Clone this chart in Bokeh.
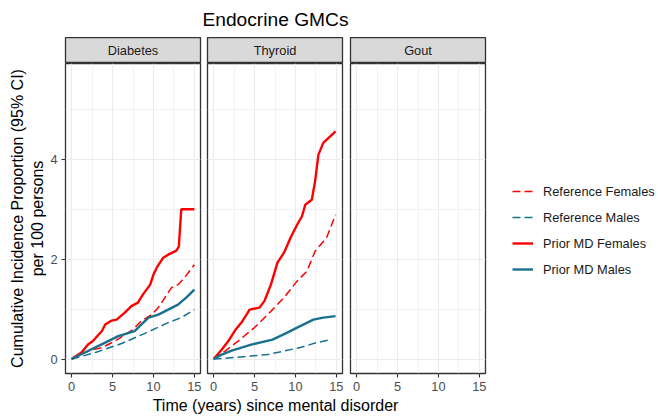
from bokeh.plotting import figure
from bokeh.layouts import row, column
from bokeh.models import FixedTicker, Range1d, Legend, LegendItem
from bokeh.core.properties import value
from bokeh.embed import file_html
from bokeh.resources import INLINE

# ---------------- data ----------------
title_text = "Endocrine GMCs"
x_title = "Time (years) since mental disorder"
y_title = "Cumulative Incidence Proportion (95% CI)\nper 100 persons"
panels = ["Diabetes", "Thyroid", "Gout"]
series_names = ["Reference Females", "Reference Males", "Prior MD Females", "Prior MD Males"]
x_ticks = [0, 5, 10, 15]
y_ticks = [0, 2, 4]

# Diabetes
diab_prior_f_t = [0, 1.2, 2.0, 2.6, 3.7, 4.1, 4.9, 5.5, 6.5, 7.3, 8.1, 8.7, 9.6, 10.0, 10.4, 11.2, 11.8, 12.8, 13.1, 13.4, 15.0]
diab_prior_f_v = [0, 0.13, 0.29, 0.36, 0.56, 0.69, 0.77, 0.79, 0.93, 1.06, 1.13, 1.29, 1.49, 1.69, 1.83, 2.03, 2.09, 2.17, 2.25, 3.0, 3.0]
diab_ref_f_t = [0, 2.0, 3.7, 5.3, 7.5, 8.5, 9.8, 10.6, 11.4, 12.2, 13.0, 13.8, 15.0]
diab_ref_f_v = [0, 0.16, 0.23, 0.36, 0.59, 0.76, 0.89, 1.03, 1.23, 1.43, 1.49, 1.63, 1.89]
diab_prior_m_t = [0, 2.0, 4.1, 5.7, 7.7, 8.5, 9.4, 10.6, 11.8, 13.0, 14.0, 15.0]
diab_prior_m_v = [0, 0.16, 0.33, 0.46, 0.56, 0.69, 0.83, 0.89, 0.99, 1.09, 1.23, 1.39]
diab_ref_m_t = [0, 2.9, 6.1, 8.9, 11.8, 13.4, 15.0]
diab_ref_m_v = [0, 0.13, 0.31, 0.51, 0.73, 0.83, 0.99]

# Thyroid
thy_prior_f_t = [0, 1.0, 1.8, 2.6, 3.4, 4.4, 5.6, 6.2, 7.0, 7.8, 8.6, 9.4, 10.2, 10.8, 11.2, 12.0, 12.4, 12.8, 13.4, 14.9]
thy_prior_f_v = [0, 0.19, 0.36, 0.57, 0.73, 0.99, 1.03, 1.16, 1.49, 1.93, 2.13, 2.43, 2.69, 2.86, 3.09, 3.19, 3.56, 4.09, 4.33, 4.56]
thy_ref_f_t = [0, 1.4, 3.0, 5.0, 7.2, 8.6, 10.2, 11.4, 12.4, 13.8, 14.9]
thy_ref_f_v = [0, 0.16, 0.36, 0.63, 0.99, 1.23, 1.56, 1.76, 2.16, 2.43, 2.89]
thy_prior_m_t = [0, 1.0, 2.2, 4.6, 7.2, 9.0, 10.2, 12.2, 13.4, 14.9]
thy_prior_m_v = [0, 0.09, 0.17, 0.29, 0.39, 0.53, 0.63, 0.79, 0.83, 0.86]
thy_ref_m_t = [0, 2.6, 6.6, 10.6, 12.6, 14.4]
thy_ref_m_v = [0, 0.03, 0.09, 0.23, 0.33, 0.39]

# Gout: no estimates shown (missing values)
gout_t = [float("nan")]
gout_v = [float("nan")]

data = {
    "Diabetes": [(diab_ref_f_t, diab_ref_f_v), (diab_ref_m_t, diab_ref_m_v),
                 (diab_prior_f_t, diab_prior_f_v), (diab_prior_m_t, diab_prior_m_v)],
    "Thyroid": [(thy_ref_f_t, thy_ref_f_v), (thy_ref_m_t, thy_ref_m_v),
                (thy_prior_f_t, thy_prior_f_v), (thy_prior_m_t, thy_prior_m_v)],
    "Gout": [(gout_t, gout_v)] * 4,
}

# ---------------- style ----------------
FONT = "Liberation Sans"
RED = "#FF0000"
TEAL = "#17718F"
styles = [
    dict(color=RED, dash="8 4", width=1.5),
    dict(color=TEAL, dash="8 4", width=1.5),
    dict(color=RED, dash="solid", width=2.4),
    dict(color=TEAL, dash="solid", width=2.4),
]
TOTAL_W = 656
LEFT = 65
FW, FH, SH = 135, 310, 26
TOP_H, BOT_AX, BOT_H = 37, 19, 23
borders = {"Diabetes": (LEFT, 4), "Thyroid": (3, 4), "Gout": (4, 4)}
LEG_W = TOTAL_W - (LEFT + FW + 4) - (3 + FW + 4) - (4 + FW + 4)
SMALL = "12.8px"


def blank(fig):
    fig.axis.visible = False
    fig.grid.visible = False
    fig.outline_line_color = None


# top title figure
top = figure(frame_width=3 * FW + 15, frame_height=TOP_H, x_range=Range1d(0, 1), y_range=Range1d(0, 1),
             toolbar_location=None, output_backend="svg", min_border_left=LEFT,
             min_border_right=TOTAL_W - LEFT - (3 * FW + 15), min_border_top=0, min_border_bottom=0)
blank(top)
top.text(x=[0.5], y=[18 / TOP_H], text=[title_text], text_align="center", text_baseline="alphabetic",
         text_font=value(FONT), text_font_size="19.2px", text_color="#000000")

cols = []
for name in panels:
    bl, br = borders[name]
    # strip
    s = figure(frame_width=FW, frame_height=SH, x_range=Range1d(0, 1), y_range=Range1d(0, 1),
               toolbar_location=None, output_backend="svg",
               min_border_left=bl, min_border_right=br, min_border_top=0, min_border_bottom=0)
    s.axis.visible = False
    s.grid.visible = False
    s.background_fill_color = "#D9D9D9"
    s.outline_line_color = "#333333"
    s.outline_line_width = 1.3
    s.text(x=[0.5], y=[0.5], text=[name], text_align="center", text_baseline="middle",
           text_font=value(FONT), text_font_size=SMALL, text_color="#1A1A1A")

    p = figure(frame_width=FW, frame_height=FH, x_range=Range1d(-0.75, 15.75),
               y_range=Range1d(-0.29, 5.92), toolbar_location=None, output_backend="svg",
               min_border_left=bl, min_border_right=br, min_border_top=0, min_border_bottom=BOT_AX)
    p.outline_line_color = "#333333"
    p.outline_line_width = 1.3
    p.xaxis.ticker = FixedTicker(ticks=x_ticks, minor_ticks=[2.5, 7.5, 12.5])
    p.yaxis.ticker = FixedTicker(ticks=y_ticks, minor_ticks=[1, 3, 5])
    for ax in [p.xaxis[0], p.yaxis[0]]:
        ax.axis_line_color = None
        ax.major_tick_line_color = "#333333"
        ax.major_tick_line_width = 1.1
        ax.major_tick_out = 4
        ax.major_tick_in = 0
        ax.minor_tick_line_color = None
        ax.major_label_text_font = FONT
        ax.major_label_text_font_size = SMALL
        ax.major_label_text_color = "#4D4D4D"
        ax.major_label_standoff = 4
        ax.axis_label_text_font = FONT
        ax.axis_label_text_font_size = "16px"
        ax.axis_label_text_font_style = "normal"
        ax.axis_label_text_color = "#000000"
    p.grid.grid_line_color = "#EBEBEB"
    p.grid.grid_line_width = 1.1
    p.grid.minor_grid_line_color = "#EDEDED"
    p.grid.minor_grid_line_width = 0.7
    if name == "Diabetes":
        p.yaxis.axis_label = y_title
        p.yaxis.axis_label_standoff = 1
    else:
        p.yaxis.visible = False

    for (t, v), st in zip(data[name], styles):
        p.line(x=t, y=v, line_color=st["color"], line_dash=st["dash"], line_width=st["width"])

    cols.append(column(s, p))

# legend figure (legend key only, no data)
lg = figure(frame_width=LEG_W, frame_height=FH, x_range=Range1d(0, 1), y_range=Range1d(0, 1),
            toolbar_location=None, output_backend="svg", min_border_left=0, min_border_right=0,
            min_border_top=SH, min_border_bottom=BOT_AX)
blank(lg)
rends = [lg.line(x=gout_t, y=gout_v, line_color=st["color"], line_dash=st["dash"], line_width=st["width"])
         for st in styles]
items = [LegendItem(label=lab, renderers=[r]) for lab, r in zip(series_names, rends)]
leg = Legend(items=items, location=(23, 94), border_line_color=None,
             background_fill_alpha=0, label_text_font=FONT, label_text_font_size=SMALL,
             label_text_color="#1A1A1A", glyph_width=21, glyph_height=20,
             label_height=20, spacing=6, padding=0, margin=0, label_standoff=10)
lg.add_layout(leg)
cols.append(lg)

# bottom x-title figure
bot = figure(frame_width=3 * FW + 15, frame_height=BOT_H, x_range=Range1d(0, 1), y_range=Range1d(0, 1),
             toolbar_location=None, output_backend="svg", min_border_left=LEFT,
             min_border_right=TOTAL_W - LEFT - (3 * FW + 15), min_border_top=0, min_border_bottom=0)
blank(bot)
bot.text(x=[0.5], y=[11 / BOT_H], text=[x_title], text_align="center", text_baseline="alphabetic",
         text_font=value(FONT), text_font_size="16px", text_color="#000000")

layout = column(top, row(*cols), bot)
open("out.html", "w").write(file_html(layout, INLINE))
